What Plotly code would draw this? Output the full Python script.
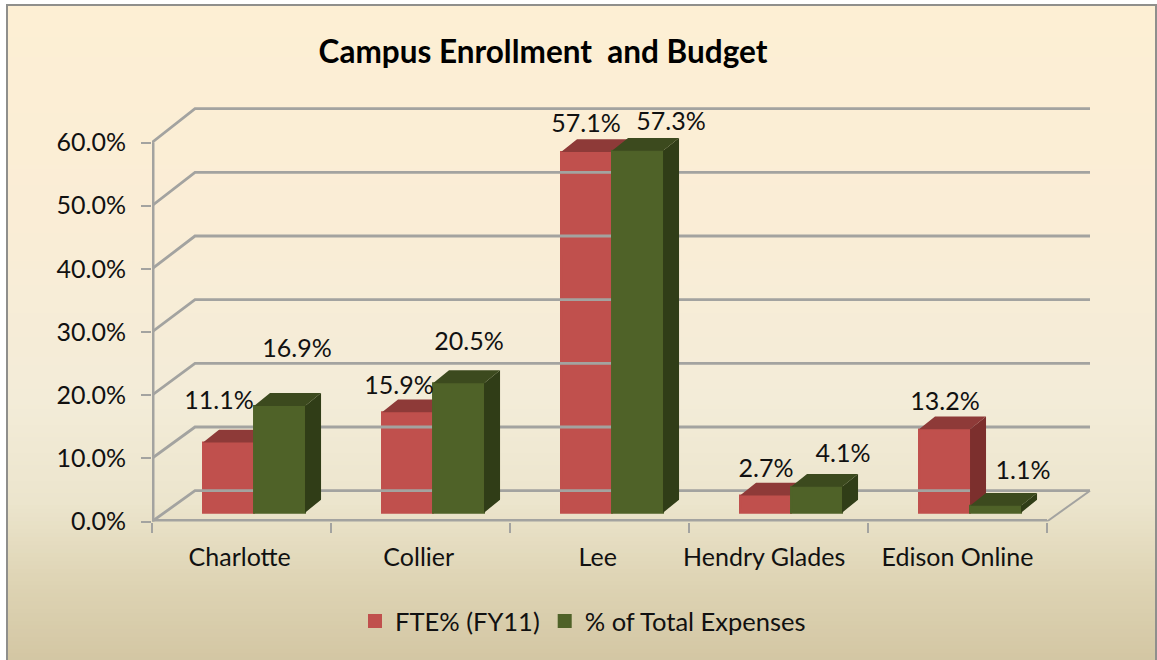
import plotly.graph_objects as go

categories = ["Charlotte", "Collier", "Lee", "Hendry Glades", "Edison Online"]
fte_values = [11.1, 15.9, 57.1, 2.7, 13.2]
expense_values = [16.9, 20.5, 57.3, 4.1, 1.1]
y_ticks = [0, 10, 20, 30, 40, 50, 60]
y_tick_labels = ["0.0%", "10.0%", "20.0%", "30.0%", "40.0%", "50.0%", "60.0%"]
category_label_pos = [0.49, 1.49, 2.49, 3.42, 4.5]

W, H = 1157, 660
FONT = "Lato"
# scale: x 0..5 spans 152..1047 px, y 0..60 spans 521.5..142.5 px
PL, PR, PB, PT = 152.0, 1047.0, 521.5, 142.5
XU = (PR - PL) / 5
YU = (PB - PT) / 60
# the axes run a little past the chart so the back wall is not clipped
XMAX, YMAX = 5.3, 67.0

def px_x(p): return (p - PL) / XU
def px_y(p): return (PB - p) / YU
def paper_x(p): return p / W
def paper_y(p): return 1 - p / H

# 3-D styling
WALL_DX, WALL_DY, WALL_K = 43 / XU, 30.8 / YU, 1.008
BAR_START, BAR_W, BAR_BASE = 0.285, 0.285, 1.4
DEPTH_X, DEPTH_Y = 16 / XU, 12.8 / YU
GRID = "#A3A3A0"
RED, RED_TOP, RED_SIDE = "#C0504D", "#8E3A38", "#7C2F2D"
GRN, GRN_TOP, GRN_SIDE = "#4F6228", "#3C4A1E", "#303D17"

# data-label centres, hand placed in the original (px)
red_label_px = [(219, 403), (399, 388), (586, 126), (766, 471), (945, 404)]
grn_label_px = [(297, 351), (469, 344), (671, 124), (843, 456), (1023, 473)]

fig = go.Figure()

# walls and floor
gx, gy = [], []
for v in y_ticks:
    back = v * WALL_K + WALL_DY
    gx += [0, WALL_DX, 5 + WALL_DX, None]
    gy += [v, back, back, None]
fig.add_trace(go.Scatter(x=gx, y=gy, mode="lines", line=dict(color=GRID, width=2.8),
                         showlegend=False, hoverinfo="skip", cliponaxis=False))
fig.add_trace(go.Scatter(x=[5, 5 + WALL_DX], y=[0, WALL_DY], mode="lines",
                         line=dict(color=GRID, width=2), showlegend=False,
                         hoverinfo="skip", cliponaxis=False))
# axis lines sit on the clipped plot edge, so they are drawn double width
fig.add_trace(go.Scatter(x=[0, None, 0, 5], y=[0, None, 0, 0], mode="lines",
                         line=dict(color=GRID, width=5), showlegend=False, hoverinfo="skip"))
fig.add_trace(go.Scatter(x=[0, 0], y=[0, 60], mode="lines",
                         line=dict(color=GRID, width=5), showlegend=False, hoverinfo="skip"))


def faces(vals, shift, top_col, side_col, xa, ya):
    tx, ty, sx, sy = [], [], [], []
    for i, v in enumerate(vals):
        l = i + BAR_START + shift
        r = l + BAR_W
        t = BAR_BASE + v
        tx += [l, r, r + DEPTH_X, l + DEPTH_X, l, None]
        ty += [t, t, t + DEPTH_Y, t + DEPTH_Y, t, None]
        sx += [r, r + DEPTH_X, r + DEPTH_X, r, r, None]
        sy += [BAR_BASE, BAR_BASE + DEPTH_Y, t + DEPTH_Y, t, BAR_BASE, None]
    for xs, ys, c in ((sx, sy, side_col), (tx, ty, top_col)):
        fig.add_trace(go.Scatter(x=xs, y=ys, mode="lines", fill="toself", fillcolor=c,
                                 line=dict(width=0, color=c), showlegend=False,
                                 hoverinfo="skip", cliponaxis=False, xaxis=xa, yaxis=ya))


xc = [i + BAR_START + BAR_W / 2 for i in range(5)]
fig.add_trace(go.Bar(x=xc, y=fte_values, base=BAR_BASE, width=BAR_W, name="FTE% (FY11)",
                     marker=dict(color=RED, line=dict(width=2, color=RED)), hoverinfo="skip",
                     cliponaxis=False))
faces(fte_values, 0, RED_TOP, RED_SIDE, "x", "y")

fig.add_trace(go.Bar(x=[c + BAR_W for c in xc], y=expense_values, base=BAR_BASE, width=BAR_W,
                     name="% of Total Expenses", marker=dict(color=GRN, line=dict(width=2, color=GRN)),
                     hoverinfo="skip", cliponaxis=False, xaxis="x2", yaxis="y2"))
faces(expense_values, BAR_W, GRN_TOP, GRN_SIDE, "x2", "y2")

for vals, pos in ((fte_values, red_label_px), (expense_values, grn_label_px)):
    fig.add_trace(go.Scatter(x=[px_x(p[0]) for p in pos], y=[px_y(p[1]) for p in pos],
                             mode="text", text=[f"{v:.1f}%" for v in vals],
                             textposition="middle center",
                             textfont=dict(family=FONT, size=25, color="#111111"),
                             showlegend=False, hoverinfo="skip", cliponaxis=False,
                             xaxis="x2", yaxis="y2"))

# gradient background, each band runs to the bottom so no seams show
stops = [(0, (253, 239, 212)), (220, (250, 237, 214)), (400, (243, 236, 216)),
         (500, (236, 229, 205)), (580, (222, 212, 180)), (660, (211, 198, 163))]
def grad(py):
    for (a, ca), (b, cb) in zip(stops, stops[1:]):
        if py <= b:
            t = (py - a) / (b - a)
            return "rgb(%d,%d,%d)" % tuple(round(ca[k] + (cb[k] - ca[k]) * t) for k in range(3))
    return "rgb(%d,%d,%d)" % stops[-1][1]

shapes = []
for py in range(5, 660, 4):
    shapes.append(dict(type="rect", xref="paper", yref="paper", layer="below",
                       x0=paper_x(7), x1=paper_x(1156), y0=paper_y(py), y1=paper_y(660),
                       fillcolor=grad(py), line=dict(width=0)))
shapes.append(dict(type="rect", xref="paper", yref="paper", layer="below",
                   x0=paper_x(7), x1=paper_x(1156), y0=paper_y(5), y1=paper_y(662),
                   fillcolor="rgba(0,0,0,0)", line=dict(color="#8F8F8C", width=2)))

axis_font = dict(family=FONT, size=25, color="#111111")
fig.update_layout(
    width=W, height=H, autosize=False,
    margin=dict(l=0, r=0, t=0, b=0, autoexpand=False),
    paper_bgcolor="white", plot_bgcolor="rgba(0,0,0,0)",
    barmode="overlay", shapes=shapes,
    title=dict(text="Campus Enrollment  and Budget", x=543 / W, y=1 - 52 / H,
               xanchor="center", yanchor="middle",
               font=dict(family=FONT, size=31.5, color="#000000", weight="bold")),
    xaxis=dict(domain=[PL / W, (PL + XMAX * XU) / W], range=[0, XMAX], showgrid=False,
               zeroline=False, showline=False,
               tickmode="array", tickvals=category_label_pos, ticktext=categories,
               ticks="", ticklabelstandoff=18, tickfont=axis_font,
               minor=dict(tickmode="array", tickvals=[0, 1, 2, 3, 4, 5], ticks="outside",
                          ticklen=10, tickwidth=2, tickcolor=GRID)),
    yaxis=dict(domain=[(H - PB) / H, (H - PB + YMAX * YU) / H], range=[0, YMAX], showgrid=False,
               zeroline=False, showline=False,
               tickmode="array", tickvals=y_ticks, ticktext=y_tick_labels,
               ticks="outside", ticklen=10, tickwidth=2, tickcolor=GRID,
               ticklabelstandoff=10, tickfont=axis_font),
    xaxis2=dict(overlaying="x", matches="x", visible=False, anchor="y2"),
    yaxis2=dict(overlaying="y", matches="y", visible=False, anchor="x2"),
    legend=dict(orientation="h", x=paper_x(355), y=paper_y(598), xanchor="left", yanchor="top",
                font=dict(family=FONT, size=25.5, color="#111111"),
                bgcolor="rgba(0,0,0,0)", traceorder="normal"),
)

fig.write_html("out.html", config={"displayModeBar": False},
               post_script="document.body.style.margin='0';")
